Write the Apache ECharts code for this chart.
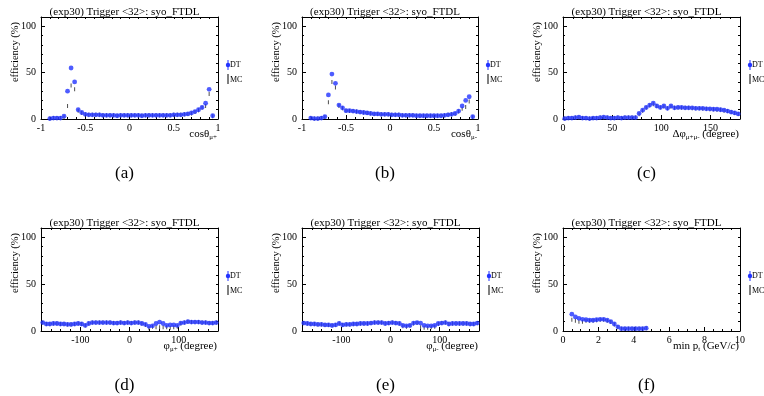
<!DOCTYPE html>
<html>
<head>
<meta charset="utf-8">
<script src="https://cdn.jsdelivr.net/npm/echarts@6/dist/echarts.min.js"></script>
<style>
    html, body { margin: 0; padding: 0; background: #fff; }
    #main { width: 764px; height: 396px; }
</style>
</head>
<body>
<div id="main"></div>
<script>
// ---- data ----
var cosBins = [-0.98, -0.94, -0.90, -0.86, -0.82, -0.78, -0.74, -0.70, -0.66, -0.62,
    -0.58, -0.54, -0.50, -0.46, -0.42, -0.38, -0.34, -0.30, -0.26, -0.22,
    -0.18, -0.14, -0.10, -0.06, -0.02, 0.02, 0.06, 0.10, 0.14, 0.18,
    0.22, 0.26, 0.30, 0.34, 0.38, 0.42, 0.46, 0.50, 0.54, 0.58,
    0.62, 0.66, 0.70, 0.74, 0.78, 0.82, 0.86, 0.90, 0.94, 0.98];
var cosPlusDT = [null, null, 0.5, 1, 1, 1, 3, 30, 55, 40,
    10, 7, 5, 4.5, 4.5, 4.5, 4.5, 4, 4, 4,
    4, 3.5, 4, 4, 4, 4, 4, 4, 3.5, 4,
    4, 4, 4, 4, 4, 4, 4, 4.5, 4.5, 4.5,
    5, 5.5, 6.5, 8, 10, 12.5, 17, 32, 3.5, null];
var cosPlusMC = [null, null, 0.5, 1, 1, 1, 2, 14, 36, 32,
    9, 6.5, 5, 4.5, 4.5, 4.5, 4.5, 4, 4, 4,
    4, 3.5, 4, 4, 4, 4, 4, 4, 3.5, 4,
    4, 4, 4, 4, 4, 4, 4, 4.5, 4.5, 4.5,
    5, 5.5, 6, 7.5, 9.5, 12, 14, 27, 3, null];
var cosMinusDT = [null, null, 1, 0.5, 0.5, 1, 2.5, 26, 48.5, 38.5,
    15, 12, 9, 9, 8.5, 8, 7.5, 7, 6.5, 6,
    5.5, 5.5, 5, 5, 5, 4.5, 4.5, 4.5, 4, 4,
    4, 4, 3.5, 3.5, 3.5, 3.5, 3.5, 3.5, 3.5, 3.5,
    4, 4.5, 5, 6, 8.5, 14, 20, 24, 2.5, null];
var cosMinusMC = [null, null, 1, 0.5, 0.5, 1, 2, 18, 40, 34,
    14, 11.5, 9, 8.5, 8.5, 8, 7.5, 7, 6.5, 6,
    5.5, 5.5, 5, 5, 5, 4.5, 4.5, 4.5, 4, 4,
    4, 4, 3.5, 3.5, 3.5, 3.5, 3.5, 3.5, 3.5, 3.5,
    4, 4.5, 5, 5.5, 8, 11, 13, 19, 2, null];

var dphiBins = [1.8, 5.4, 9.0, 12.6, 16.2, 19.8, 23.4, 27.0, 30.6, 34.2,
    37.8, 41.4, 45.0, 48.6, 52.2, 55.8, 59.4, 63.0, 66.6, 70.2,
    73.8, 77.4, 81.0, 84.6, 88.2, 91.8, 95.4, 99.0, 102.6, 106.2,
    109.8, 113.4, 117.0, 120.6, 124.2, 127.8, 131.4, 135.0, 138.6, 142.2,
    145.8, 149.4, 153.0, 156.6, 160.2, 163.8, 167.4, 171.0, 174.6, 178.2];
var dphiDT = [0.5, 1, 1, 1.5, 2, 1, 1, 0.5, 1, 1,
    1.5, 2, 1.5, 1, 1, 1.5, 1, 1.5, 1.5, 1.5,
    1.5, 6, 9.5, 12.5, 15, 17, 14, 12.5, 14, 11.5,
    14, 12, 12.5, 12.5, 12, 12, 12, 11.5, 11.5, 11.5,
    11, 11, 10.5, 10.5, 10, 9.5, 8.5, 7.5, 6.5, 5.5];
var dphiMC = [0.5, 1, 1, 1.5, 1.5, 1, 1, 0.5, 1, 1,
    1.5, 1.5, 1.5, 1, 1, 1.5, 1, 1.5, 1.5, 1.5,
    1.5, 5, 9, 12, 14.5, 16, 14, 12.5, 13.5, 11.5,
    13.5, 12, 12.5, 12, 12, 12, 11.5, 11.5, 11.5, 11,
    11, 10.5, 10.5, 10, 10, 9, 8.5, 7.5, 6.5, 5.5];

var phiBins = [-176.4, -169.2, -162.0, -154.8, -147.6, -140.4, -133.2, -126.0, -118.8, -111.6,
    -104.4, -97.2, -90.0, -82.8, -75.6, -68.4, -61.2, -54.0, -46.8, -39.6,
    -32.4, -25.2, -18.0, -10.8, -3.6, 3.6, 10.8, 18.0, 25.2, 32.4,
    39.6, 46.8, 54.0, 61.2, 68.4, 75.6, 82.8, 90.0, 97.2, 104.4,
    111.6, 118.8, 126.0, 133.2, 140.4, 147.6, 154.8, 162.0, 169.2, 176.4];
var phiPlusDT = [9, 7.5, 7.5, 8, 8, 7.5, 7.5, 7, 7, 7.5,
    8, 7.5, 6, 8, 9, 9, 9, 9, 9, 9,
    8.5, 8.5, 9, 8.5, 9, 8.5, 9, 9, 8, 7,
    5, 5.5, 8, 9.5, 8, 6, 6.5, 6.5, 6, 8.5,
    9, 10, 9.5, 9.5, 9.5, 9, 9, 8.5, 8.5, 9];
var phiPlusMC = [9, 7.5, 7.5, 8, 8, 7.5, 7.5, 7, 7, 7.5,
    8, 7.5, 6, 8, 9, 9, 9, 9, 9, 9,
    8.5, 8.5, 9, 8.5, 9, 8.5, 9, 9, 8, 6.5,
    3, 4.5, 4, 4, 4, 4, 3.5, 4, 4.5, 8,
    9, 10, 9.5, 9.5, 9.5, 9, 9, 8.5, 8.5, 9];
var phiMinusDT = [8.5, 8, 7.5, 7.5, 7, 7, 6.5, 6.5, 6, 6.5,
    8, 6.5, 7, 7, 7.5, 7.5, 8, 8, 8, 8.5,
    9, 9, 9, 8, 8.5, 9, 8.5, 8, 6, 5.5,
    6, 8.5, 9, 8.5, 6, 5.5, 5.5, 6, 8, 8.5,
    9, 7.5, 8, 8, 8, 8, 8, 7.5, 7.5, 8.5];
var phiMinusMC = [8.5, 8, 7.5, 7.5, 7, 7, 6.5, 6.5, 6, 6.5,
    8, 6.5, 7, 7, 7.5, 7.5, 8, 8, 8, 8.5,
    9, 9, 9, 8, 8.5, 9, 8.5, 8, 5, 4.5,
    5.5, 8, 8.5, 4, 3.5, 3.5, 4, 4.5, 7.5, 8.5,
    9, 7.5, 8, 8, 8, 8, 8, 7.5, 7.5, 8.5];

var ptBins = [0.5, 0.7, 0.9, 1.1, 1.3, 1.5, 1.7, 1.9, 2.1, 2.3, 2.5,
    2.7, 2.9, 3.1, 3.3, 3.5, 3.7, 3.9, 4.1, 4.3, 4.5, 4.7];
var ptDT = [18, 15, 13.5, 12.5, 12, 11.5, 11.5, 12, 12.5, 12.5, 11.5,
    10, 7.5, 4.5, 2.5, 2.5, 2.5, 2.5, 2.5, 2.5, 2.5, 3];
var ptMC = [12, 11, 10, 10, 11, 11, 11, 11.5, 12, 12, 11,
    9.5, 7, 4, 2.5, 2.5, 2.5, 2.5, 2.5, 2.5, 2.5, 3];

// tick labels
var effTicks = [0, 50, 100];
var cosTicks = [-1, -0.5, 0, 0.5, 1];
var dphiTicks = [0, 50, 100, 150];
var phiTicks = [-100, 0, 100];
var ptTicks = [0, 2, 4, 6, 8, 10];

var titleText = '(exp30) Trigger <32>: syo_FTDL';
var yTitle = 'efficiency (%)';

var SERIF = '"Liberation Serif", "DejaVu Serif", serif';
var BLUE = '#2233ff';

var panels = [
    {tag: '(a)', left: 41, top: 17, w: 177, h: 102, min: -1, max: 1, step: 0.1, ticks: cosTicks,
        bins: cosBins, dt: cosPlusDT, mc: cosPlusMC, xt: '{n|cosθ}{s|μ+}'},
    {tag: '(b)', left: 302, top: 17, w: 176, h: 102, min: -1, max: 1, step: 0.1, ticks: cosTicks,
        bins: cosBins, dt: cosMinusDT, mc: cosMinusMC, xt: '{n|cosθ}{s|μ-}'},
    {tag: '(c)', left: 563, top: 17, w: 177, h: 102, min: 0, max: 180, step: 10, ticks: dphiTicks,
        bins: dphiBins, dt: dphiDT, mc: dphiMC, xt: '{n|Δφ}{s|μ+μ-}{n| (degree)}'},
    {tag: '(d)', left: 41, top: 228, w: 177, h: 103, min: -180, max: 180, step: 20, ticks: phiTicks,
        bins: phiBins, dt: phiPlusDT, mc: phiPlusMC, xt: '{n|φ}{s|μ+}{n| (degree)}'},
    {tag: '(e)', left: 302, top: 228, w: 177, h: 103, min: -180, max: 180, step: 20, ticks: phiTicks,
        bins: phiBins, dt: phiMinusDT, mc: phiMinusMC, xt: '{n|φ}{s|μ-}{n| (degree)}'},
    {tag: '(f)', left: 563, top: 228, w: 177, h: 103, min: 0, max: 10, step: 0.5, ticks: ptTicks,
        bins: ptBins, dt: ptDT, mc: ptMC, xt: '{n|min p}{s|t}{n| (GeV/}{i|c}{n|)}'}
];

function pairs(xs, ys) {
    var out = [];
    for (var i = 0; i < xs.length; i++) {
        if (ys[i] != null) out.push([xs[i], ys[i]]);
    }
    return out;
}

var blackLine = {color: '#000', width: 1};
var grids = [], xAxes = [], yAxes = [], series = [], graphics = [];

panels.forEach(function (p, gi) {
    grids.push({left: p.left, top: p.top, width: p.w, height: p.h, outerBoundsMode: 'none'});

    var xb = {gridIndex: gi, type: 'value', min: p.min, max: p.max, interval: p.step,
        splitLine: {show: false}, silent: true};
    // bottom: line, minor ticks, labels
    xAxes.push(Object.assign({}, xb, {position: 'bottom',
        axisLine: {onZero: false, lineStyle: blackLine},
        axisTick: {inside: true, length: 2, lineStyle: blackLine},
        axisLabel: {customValues: p.ticks, margin: 4, color: '#000', fontFamily: SERIF, fontSize: 10}}));
    // top mirror
    xAxes.push(Object.assign({}, xb, {position: 'top',
        axisLine: {onZero: false, lineStyle: blackLine},
        axisTick: {inside: true, length: 2, lineStyle: blackLine},
        axisLabel: {show: false}}));
    // bottom major ticks
    xAxes.push(Object.assign({}, xb, {position: 'bottom',
        axisLine: {show: false, onZero: false},
        axisTick: {inside: true, length: 4, customValues: p.ticks, lineStyle: blackLine},
        axisLabel: {show: false}}));

    var yb = {gridIndex: gi, type: 'value', min: 0, max: 110, interval: 10,
        splitLine: {show: false}, silent: true};
    yAxes.push(Object.assign({}, yb, {position: 'left',
        axisLine: {onZero: false, lineStyle: blackLine},
        axisTick: {inside: true, length: 2, lineStyle: blackLine},
        axisLabel: {customValues: effTicks, margin: 5, color: '#000', fontFamily: SERIF, fontSize: 10}}));
    yAxes.push(Object.assign({}, yb, {position: 'right',
        axisLine: {onZero: false, lineStyle: blackLine},
        axisTick: {inside: true, length: 2, lineStyle: blackLine},
        axisLabel: {show: false}}));
    yAxes.push(Object.assign({}, yb, {position: 'left',
        axisLine: {show: false, onZero: false},
        axisTick: {inside: true, length: 4, customValues: effTicks, lineStyle: blackLine},
        axisLabel: {show: false}}));

    series.push({
        type: 'scatter', xAxisIndex: gi * 3, yAxisIndex: gi * 3,
        symbol: 'rect', symbolSize: [1, 4], z: 2, silent: true,
        itemStyle: {color: '#222'},
        data: pairs(p.bins, p.mc)
    });
    series.push({
        type: 'scatter', xAxisIndex: gi * 3, yAxisIndex: gi * 3,
        symbol: 'circle', symbolSize: 4.8, z: 3, silent: true,
        itemStyle: {color: BLUE},
        data: pairs(p.bins, p.dt)
    });

    var right = p.left + p.w;
    var bottom = p.top + p.h;
    // title
    graphics.push({type: 'text', x: p.left + p.w / 2 - 5, y: p.top - 5,
        style: {text: titleText, fill: '#000', font: '11px ' + SERIF, align: 'center', verticalAlign: 'middle'}});
    // y title
    graphics.push({type: 'text', x: p.left - 26, y: p.top + 35, rotation: Math.PI / 2,
        style: {text: yTitle, fill: '#000', font: '10.5px ' + SERIF, align: 'center', verticalAlign: 'middle'}});
    // x title
    graphics.push({type: 'text', x: right - 1, y: bottom + 15,
        style: {text: p.xt, fill: '#000', font: '11px ' + SERIF, align: 'right', verticalAlign: 'middle',
            rich: {
                n: {fontFamily: SERIF, fontSize: 11, lineHeight: 14, fill: '#000'},
                s: {fontFamily: SERIF, fontSize: 7, lineHeight: 14, verticalAlign: 'bottom', fill: '#000'},
                i: {fontFamily: SERIF, fontSize: 11, lineHeight: 14, fontStyle: 'italic', fill: '#000'}
            }}});
    // panel tag
    graphics.push({type: 'text', x: p.left + p.w / 2 - 5, y: bottom + 55,
        style: {text: p.tag, fill: '#000', font: '17px ' + SERIF, align: 'center', verticalAlign: 'middle'}});
    // legend: DT
    var lx = right + 10;
    var ly = p.top + 48;
    graphics.push({type: 'line', shape: {x1: lx, y1: ly - 5, x2: lx, y2: ly + 5}, style: {stroke: BLUE, lineWidth: 1}});
    graphics.push({type: 'circle', shape: {cx: lx, cy: ly, r: 2.2}, style: {fill: BLUE}});
    graphics.push({type: 'text', x: lx + 2, y: ly,
        style: {text: 'DT', fill: '#000', font: '8px ' + SERIF, align: 'left', verticalAlign: 'middle'}});
    // legend: MC
    graphics.push({type: 'line', shape: {x1: lx, y1: ly + 9, x2: lx, y2: ly + 19}, style: {stroke: '#000', lineWidth: 1}});
    graphics.push({type: 'text', x: lx + 2, y: ly + 14.5,
        style: {text: 'MC', fill: '#000', font: '8px ' + SERIF, align: 'left', verticalAlign: 'middle'}});
});

var myChart = echarts.init(document.getElementById('main'));
myChart.setOption({
    animation: false,
    backgroundColor: '#fff',
    grid: grids,
    xAxis: xAxes,
    yAxis: yAxes,
    series: series,
    graphic: graphics
});
</script>
</body>
</html>
